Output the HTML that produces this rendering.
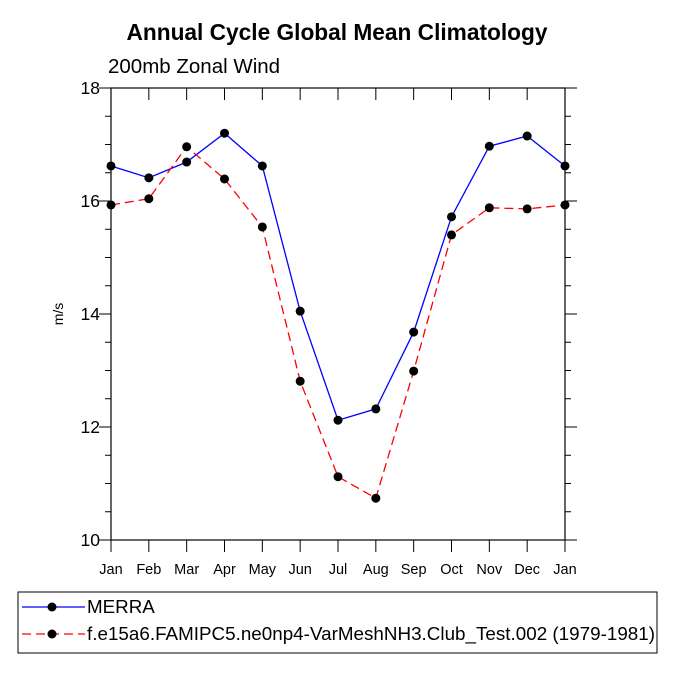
<!DOCTYPE html>
<html><head><meta charset="utf-8"><style>body{margin:0;background:#fff}svg{display:block;font-family:"Liberation Sans",sans-serif}</style></head>
<body>
<svg id="c" width="675" height="675">
<text x="337" y="40" text-anchor="middle" font-size="22.7" font-weight="bold">Annual Cycle Global Mean Climatology</text>
<text x="108" y="73" font-size="20.5">200mb Zonal Wind</text>
<text transform="translate(63,314) rotate(-90)" text-anchor="middle" font-size="14">m/s</text>
<g id="axes"></g><g id="series"></g>
<rect x="18" y="592" width="639" height="61" fill="none" stroke="#000" stroke-width="1"/>
<g><line x1="22" y1="607" x2="85" y2="607" stroke="#00f" stroke-width="1.3"/><circle cx="52" cy="607" r="4.5"/><text x="87" y="613" font-size="18.8">MERRA</text></g>
<g><line x1="22" y1="634" x2="85" y2="634" stroke="#f00" stroke-width="1.3" stroke-dasharray="9,5"/><circle cx="52" cy="634" r="4.5"/><text x="87" y="640" font-size="18.8" textLength="568">f.e15a6.FAMIPC5.ne0np4-VarMeshNH3.Club_Test.002 (1979-1981)</text></g>
</svg>
<script>
const months=["Jan","Feb","Mar","Apr","May","Jun","Jul","Aug","Sep","Oct","Nov","Dec","Jan"];
const merra=[16.62,16.41,16.69,17.2,16.62,14.05,12.12,12.32,13.68,15.72,16.97,17.15,16.62];
const model=[15.93,16.04,16.96,16.39,15.54,12.81,11.12,10.74,12.99,15.4,15.88,15.86,15.93];
const yTicks=[10,12,14,16,18];
const X0=111,X1=565,Y0=88,Y1=540,ymin=10,ymax=18;
const xs=i=>X0+(X1-X0)*i/(months.length-1);
const ys=v=>Y1-(v-ymin)/(ymax-ymin)*(Y1-Y0);
const NS="http://www.w3.org/2000/svg";
function mk(t,a,p){const e=document.createElementNS(NS,t);for(const k in a)e.setAttribute(k,a[k]);p.appendChild(e);return e;}
const ax=document.getElementById('axes');
const fr=mk('rect',{x:X0,y:Y0,width:X1-X0,height:Y1-Y0,fill:'none',stroke:'#000','stroke-width':1.2},ax);


for(let v=ymin;v<=ymax;v+=0.5){const y=ys(v);const maj=yTicks.includes(v);const L=maj?12:6;
mk('line',{x1:X0-L,y1:y,x2:X0,y2:y,stroke:'#000'},ax);mk('line',{x1:X1,y1:y,x2:X1+L,y2:y,stroke:'#000'},ax);}
yTicks.forEach(v=>{const t=mk('text',{x:X0-11,y:ys(v)+6,'text-anchor':'end','font-size':17.5},ax);t.textContent=v;

});
months.forEach((m,i)=>{const x=xs(i);mk('line',{x1:x,y1:Y0,x2:x,y2:Y0+12,stroke:'#000'},ax);mk('line',{x1:x,y1:Y1,x2:x,y2:Y1+12,stroke:'#000'},ax);
const t=mk('text',{x:x,y:Y1+34,'text-anchor':'middle','font-size':14.5},ax);t.textContent=m;

});
const sg=document.getElementById('series');
function draw(vals,col,dash,name){const g=mk('g',{},sg);


mk('polyline',{points:vals.map((v,i)=>xs(i)+','+ys(v)).join(' '),fill:'none',stroke:col,'stroke-width':1.3,'stroke-dasharray':dash},g);
vals.forEach((v,i)=>mk('circle',{cx:xs(i),cy:ys(v),r:4.5},g));}
draw(merra,'#00f','none','series-merra');
draw(model,'#f00','9,5','series-model');
</script>
</body></html>
